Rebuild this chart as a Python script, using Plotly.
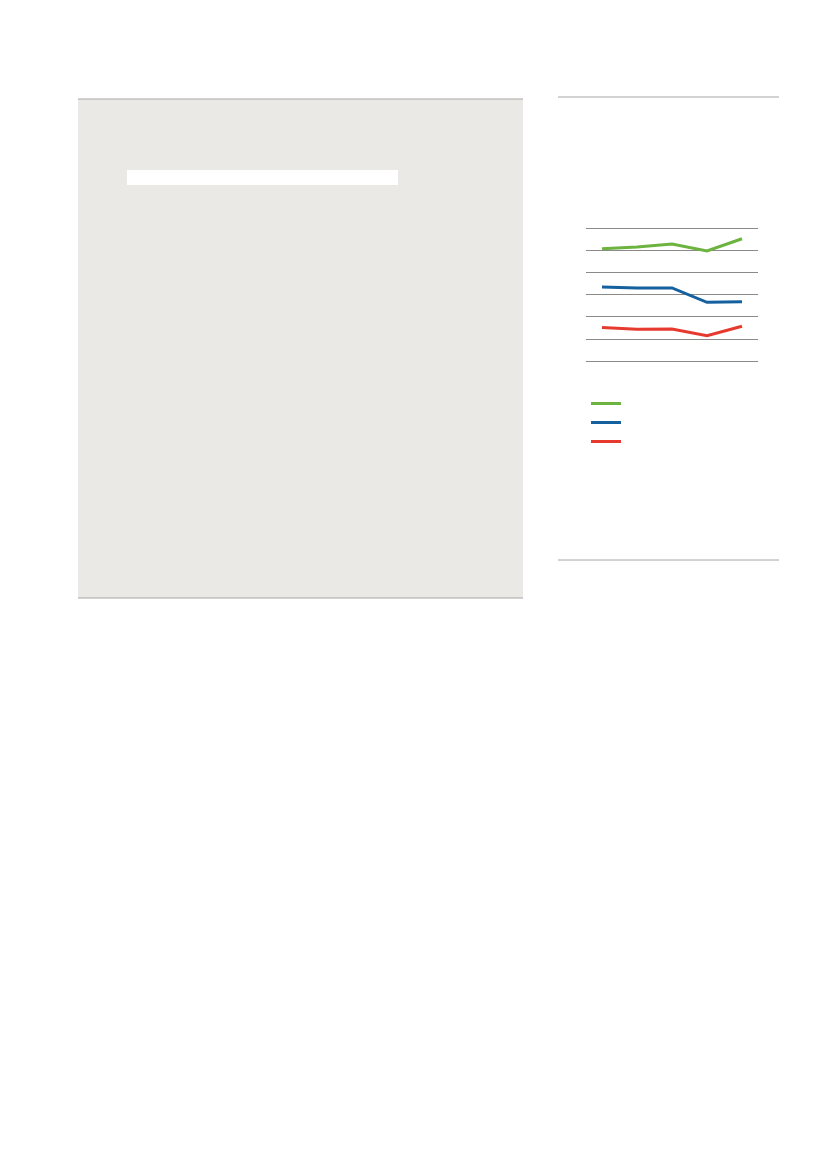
import plotly.graph_objects as go

# --- data ---
periods = [1, 2, 3, 4, 5]
green_vals = [50.8, 51.6, 52.9, 49.8, 55.3]
blue_vals = [33.5, 33.1, 33.1, 26.6, 26.9]
red_vals = [15.2, 14.4, 14.6, 11.5, 15.8]
grid_ticks = [0, 10, 20, 30, 40, 50, 60]

W, H = 827, 1169


def px_x(p):
    return p / W


def px_y(p):
    # pixel from top -> paper from bottom
    return 1 - p / H


fig = go.Figure()

series = [
    (green_vals, "#6cb33f"),
    (blue_vals, "#15609e"),
    (red_vals, "#e53a2d"),
]
for vals, col in series:
    fig.add_trace(go.Scatter(
        x=periods, y=vals, mode="lines", name=" ",
        line=dict(color=col, width=3),
        hoverinfo="skip",
    ))

shapes = [
    # grey panel on the left
    dict(type="rect", xref="paper", yref="paper",
         x0=px_x(78), x1=px_x(523), y0=px_y(598), y1=px_y(99),
         fillcolor="#ebe9e5", line=dict(width=0), layer="below"),
    dict(type="line", xref="paper", yref="paper",
         x0=px_x(78), x1=px_x(523), y0=px_y(99), y1=px_y(99),
         line=dict(color="#a8a6a2", width=1)),
    dict(type="line", xref="paper", yref="paper",
         x0=px_x(78), x1=px_x(523), y0=px_y(598), y1=px_y(598),
         line=dict(color="#a8a6a2", width=1)),
    # white bar inside the panel
    dict(type="rect", xref="paper", yref="paper",
         x0=px_x(127), x1=px_x(398), y0=px_y(185), y1=px_y(170),
         fillcolor="white", line=dict(width=0), layer="below"),
    # rules framing the right-hand chart block
    dict(type="line", xref="paper", yref="paper",
         x0=px_x(558), x1=px_x(779), y0=px_y(97), y1=px_y(97),
         line=dict(color="#a8a6a2", width=1)),
    dict(type="line", xref="paper", yref="paper",
         x0=px_x(558), x1=px_x(779), y0=px_y(560), y1=px_y(560),
         line=dict(color="#a8a6a2", width=1)),
]

fig.update_layout(
    width=W, height=H,
    margin=dict(l=0, r=0, t=0, b=0),
    paper_bgcolor="white",
    plot_bgcolor="rgba(0,0,0,0)",
    font=dict(family="Open Sans", size=12, color="#333"),
    shapes=shapes,
    showlegend=True,
    legend=dict(
        x=px_x(586), y=px_y(389), xanchor="left", yanchor="top",
        bgcolor="rgba(0,0,0,0)", itemwidth=30,
        font=dict(size=10),
    ),
    xaxis=dict(
        domain=[px_x(586), px_x(758)],
        range=[0.543, 5.457],
        showgrid=False, zeroline=False, showticklabels=False, ticks="",
    ),
    yaxis=dict(
        domain=[px_y(363.5), px_y(226.1)],
        range=[-1, 61],
        tickvals=grid_ticks,
        showgrid=True, gridcolor="#8c8a86", gridwidth=1,
        zeroline=False, showticklabels=False, ticks="",
    ),
)

fig.write_html("out.html", config={"displayModeBar": False},
               post_script="document.body.style.margin='0px';")
